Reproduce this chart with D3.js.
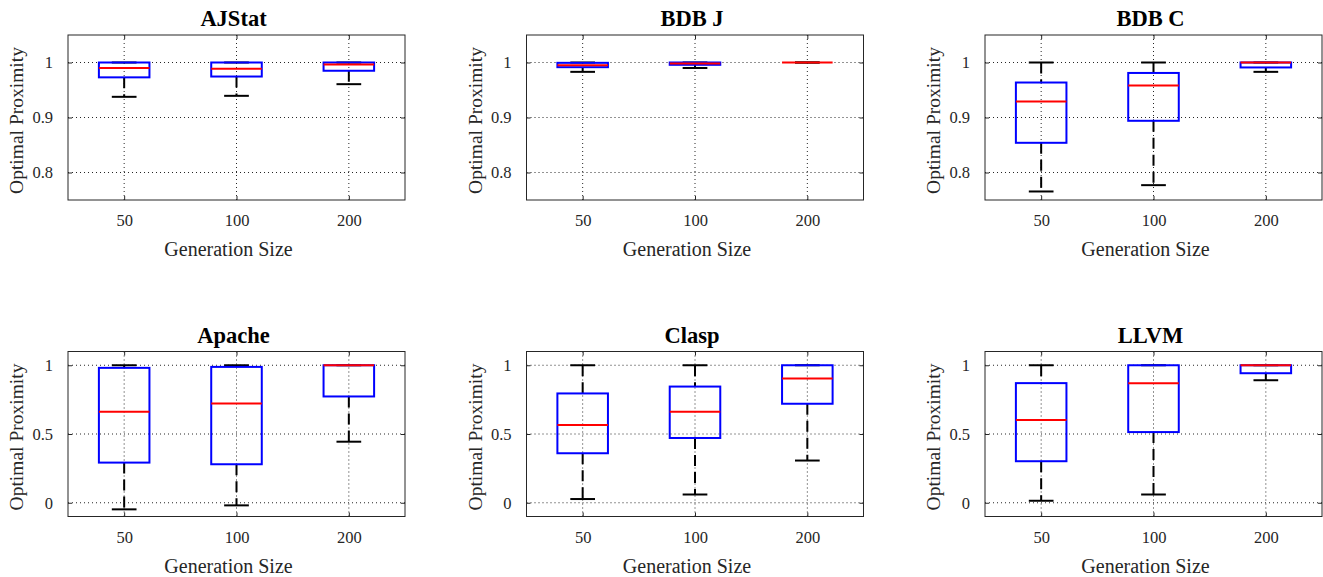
<!DOCTYPE html>
<html>
<head>
<meta charset="utf-8">
<script src="https://cdn.jsdelivr.net/npm/d3@7"></script>
<style>
  body { margin: 0; background: #fff; }
</style>
</head>
<body>
<div id="chart"></div>
<script>
var titles = ['AJStat', 'BDB J', 'BDB C', 'Apache', 'Clasp', 'LLVM'];
var genSizes = ['50', '100', '200'];

// per panel, per generation size
var lowerWhisker = [
    [0.9376, 0.9394, 0.9606],
    [0.983, 0.990, 1.0],
    [0.7655, 0.777, 0.983],
    [-0.048, -0.019, 0.444],
    [0.027, 0.060, 0.307],
    [0.0145, 0.060, 0.891]
];
var q1 = [
    [0.973, 0.9745, 0.985],
    [0.9915, 0.9958, 1.0],
    [0.854, 0.894, 0.991],
    [0.292, 0.280, 0.773],
    [0.360, 0.471, 0.720],
    [0.302, 0.514, 0.942]
];
var median = [
    [0.990, 0.9885, 0.9964],
    [0.995, 0.998, 1.0],
    [0.929, 0.958, 1.0],
    [0.662, 0.722, 1.0],
    [0.565, 0.662, 0.903],
    [0.601, 0.870, 1.0]
];
var q3 = [
    [1.0, 1.0, 1.0],
    [0.9994, 1.0, 1.0],
    [0.9636, 0.981, 1.0],
    [0.981, 0.988, 1.0],
    [0.795, 0.845, 1.0],
    [0.870, 1.0, 1.0]
];
var upperWhisker = [
    [1.0, 1.0, 1.0],
    [1.0, 1.0, 1.0],
    [1.0, 1.0, 1.0],
    [1.0, 1.0, 1.0],
    [1.0, 1.0, 1.0],
    [1.0, 1.0, 1.0]
];
var yDomains = [[0.75, 1.05], [0.75, 1.05], [0.75, 1.05], [-0.1, 1.1], [-0.1, 1.1], [-0.1, 1.1]];
var yTicks = [[0.8, 0.9, 1], [0.8, 0.9, 1], [0.8, 0.9, 1], [0, 0.5, 1], [0, 0.5, 1], [0, 0.5, 1]];

var width = 1323, height = 577;
var colLeft = [68, 526.5, 985];
var rowTop = [35, 351.5];
var pw = 337, ph = 165;
var axisColor = '#262626';
var serif = '"Liberation Serif", "Times New Roman", Times, serif';

var svg = d3.select('#chart').append('svg')
    .attr('width', width)
    .attr('height', height)
    .attr('font-family', serif)
    .style('background', '#fff');

titles.forEach(function (title, i) {
    var g = svg.append('g')
        .attr('transform', `translate(${colLeft[i % 3]},${rowTop[Math.floor(i / 3)]})`);

    var x = d3.scalePoint().domain(genSizes).range([0, pw]).padding(0.5);
    var y = d3.scaleLinear().domain(yDomains[i]).range([ph, 0]);
    var step = x.step();
    var boxW = 0.45 * step, capW = 0.22 * step;

    // grid
    g.append('g').selectAll('line').data(yTicks[i]).enter().append('line')
        .attr('x1', 0).attr('x2', pw)
        .attr('y1', d => y(d)).attr('y2', d => y(d))
        .attr('stroke', axisColor).attr('stroke-width', 1)
        .attr('stroke-dasharray', '1,3');
    g.append('g').selectAll('line').data(genSizes).enter().append('line')
        .attr('x1', d => x(d)).attr('x2', d => x(d))
        .attr('y1', 0).attr('y2', ph)
        .attr('stroke', axisColor).attr('stroke-width', 1)
        .attr('stroke-dasharray', '1,3');

    // axes
    var yAxis = g.append('g')
        .call(d3.axisLeft(y).tickValues(yTicks[i]).tickFormat(d3.format('')).tickSize(-4).tickPadding(15));
    var xAxis = g.append('g').attr('transform', `translate(0,${ph})`)
        .call(d3.axisBottom(x).tickSize(-4).tickPadding(14.5));
    g.append('g').attr('transform', `translate(${pw},0)`)
        .call(d3.axisRight(y).tickValues(yTicks[i]).tickFormat('').tickSize(-4));
    g.append('g')
        .call(d3.axisTop(x).tickFormat('').tickSize(-4));
    g.selectAll('.domain').remove();
    g.selectAll('.tick line').attr('stroke', axisColor);
    [yAxis, xAxis].forEach(function (a) {
        a.attr('font-family', serif).attr('font-size', 16.5);
        a.selectAll('text').attr('fill', axisColor);
    });

    g.append('rect')
        .attr('width', pw).attr('height', ph)
        .attr('fill', 'none').attr('stroke', axisColor).attr('stroke-width', 1);

    // boxes
    var boxes = g.selectAll('.box').data(genSizes).enter().append('g').attr('class', 'box');

    boxes.append('line')
        .attr('x1', d => x(d)).attr('x2', d => x(d))
        .attr('y1', (d, j) => y(upperWhisker[i][j])).attr('y2', (d, j) => y(q3[i][j]))
        .attr('stroke', '#000').attr('stroke-width', 2).attr('stroke-dasharray', '11,6');
    boxes.append('line')
        .attr('x1', d => x(d)).attr('x2', d => x(d))
        .attr('y1', (d, j) => y(q1[i][j])).attr('y2', (d, j) => y(lowerWhisker[i][j]))
        .attr('stroke', '#000').attr('stroke-width', 2).attr('stroke-dasharray', '11,6');
    boxes.append('line')
        .attr('x1', d => x(d) - capW / 2).attr('x2', d => x(d) + capW / 2)
        .attr('y1', (d, j) => y(upperWhisker[i][j])).attr('y2', (d, j) => y(upperWhisker[i][j]))
        .attr('stroke', '#000').attr('stroke-width', 2);
    boxes.append('line')
        .attr('x1', d => x(d) - capW / 2).attr('x2', d => x(d) + capW / 2)
        .attr('y1', (d, j) => y(lowerWhisker[i][j])).attr('y2', (d, j) => y(lowerWhisker[i][j]))
        .attr('stroke', '#000').attr('stroke-width', 2);
    boxes.append('rect')
        .attr('x', d => x(d) - boxW / 2)
        .attr('y', (d, j) => y(q3[i][j]))
        .attr('width', boxW)
        .attr('height', (d, j) => Math.max(0, y(q1[i][j]) - y(q3[i][j])))
        .attr('fill', 'none').attr('stroke', '#0000ff').attr('stroke-width', 2);
    boxes.append('line')
        .attr('x1', d => x(d) - boxW / 2).attr('x2', d => x(d) + boxW / 2)
        .attr('y1', (d, j) => y(median[i][j])).attr('y2', (d, j) => y(median[i][j]))
        .attr('stroke', '#ff0000').attr('stroke-width', 2);

    // labels
    g.append('text')
        .attr('x', pw / 2 - 3).attr('y', -9)
        .attr('text-anchor', 'middle')
        .attr('font-size', 22.5).attr('font-weight', 'bold')
        .attr('fill', '#000')
        .text(title);
    g.append('text')
        .attr('x', pw / 2 - 8).attr('y', ph + 56)
        .attr('text-anchor', 'middle')
        .attr('font-size', 20)
        .attr('fill', axisColor)
        .text('Generation Size');
    g.append('text')
        .attr('transform', `translate(-45,${ph / 2 + 3})rotate(-90)`)
        .attr('text-anchor', 'middle')
        .attr('font-size', 19.5)
        .attr('fill', axisColor)
        .text('Optimal Proximity');
});
</script>
</body>
</html>
